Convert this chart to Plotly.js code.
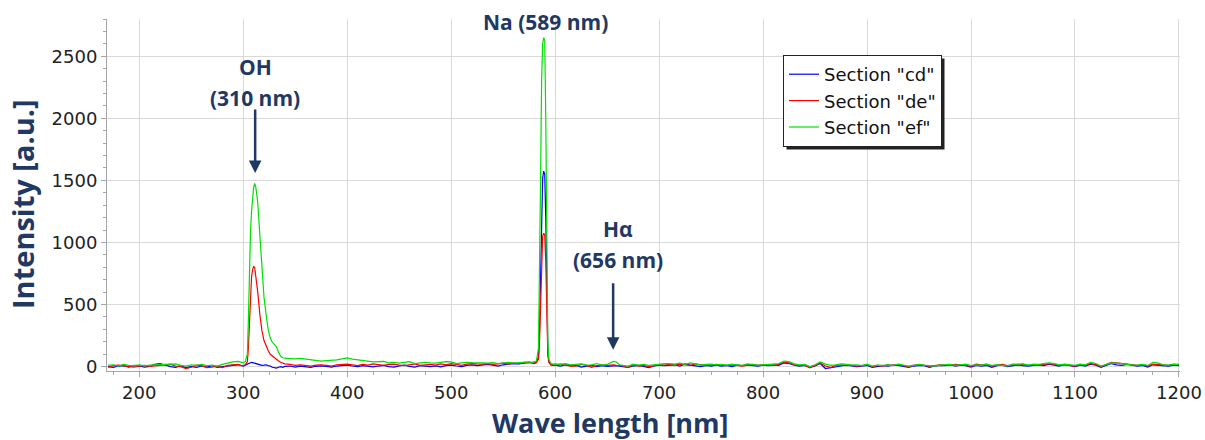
<!DOCTYPE html>
<html>
<head>
<meta charset="utf-8">
<script src="https://cdn.plot.ly/plotly-3.0.1.min.js"></script>
<style>html,body{margin:0;padding:0;background:#fff;}#chart{width:1205px;height:440px;}</style>
</head>
<body>
<div id="chart"></div>
<script>
// Wavelength grid [nm]
const wavelength = [
  170,175,180,185,190,195,200,205,210,215,
  220,225,230,235,240,245,250,255,260,265,
  270,275,280,285,290,295,298,300,302,304,
  305,306,307,308,309,310,311,312,313,314,
  316,318,320,322,324,326,328,330,332,334,
  336,338,340,345,350,355,360,365,370,375,
  380,385,390,395,400,405,410,415,420,425,
  430,435,440,445,450,455,460,465,470,475,
  480,485,490,495,500,505,510,515,520,525,
  530,535,540,545,550,555,560,565,570,575,
  578,580,582,584,585,586,587,588,589,590,
  591,592,593,594,596,598,600,605,610,615,
  620,625,630,635,640,645,650,653,656,659,
  662,665,670,675,680,685,690,695,700,705,
  710,715,720,725,730,735,740,745,750,755,
  760,765,770,775,780,785,790,795,800,805,
  810,815,820,825,830,835,840,845,850,855,
  860,865,870,875,880,885,890,895,900,905,
  910,915,920,925,930,935,940,945,950,955,
  960,965,970,975,980,985,990,995,1000,1005,
  1010,1015,1020,1025,1030,1035,1040,1045,1050,1055,
  1060,1065,1070,1075,1080,1085,1090,1095,1100,1105,
  1110,1115,1120,1125,1130,1135,1140,1145,1150,1155,
  1160,1165,1170,1175,1180,1185,1190,1195,1200
];

// Section "cd" intensity [a.u.]
const sectionCd = [
  0,-5,5,8,-3,10,5,-4,2,18,
  25,10,0,-5,8,-10,2,-6,5,-3,
  8,-5,-2,5,10,15,8,5,12,20,
  28,32,35,35,33,30,28,25,22,20,
  15,10,12,15,8,5,-5,-8,-12,-5,
  0,-6,2,5,-3,4,0,-5,3,6,
  2,-3,5,10,12,5,0,8,3,-2,
  5,10,0,-4,6,12,2,-3,8,4,
  0,6,-2,8,12,5,0,10,15,8,
  10,18,12,5,15,20,25,22,30,35,
  30,25,35,80,300,700,1250,1520,1575,1550,
  1200,500,120,40,15,10,12,5,15,8,
  12,-3,5,10,0,8,2,5,10,8,
  3,0,-5,5,10,2,-8,5,12,8,
  10,15,5,22,12,8,0,10,5,12,
  5,10,0,12,8,15,10,5,12,8,
  15,10,30,25,12,5,10,-5,5,25,
  -15,-10,0,5,12,8,0,5,10,-5,
  0,8,5,12,10,0,-5,5,10,8,
  -5,5,10,8,15,5,12,8,-3,10,
  5,10,-5,8,12,0,10,15,8,5,
  10,15,8,20,12,5,18,8,0,12,
  5,20,12,-5,10,25,15,10,18,12,
  5,10,-3,15,10,8,5,12,8
];

// Section "de" intensity [a.u.]
const sectionDe = [
  -5,8,12,5,0,-3,6,10,2,5,
  10,15,18,5,0,-15,-5,12,8,-8,
  -5,5,-8,10,12,18,10,8,15,40,
  150,380,620,720,780,805,800,740,660,600,
  420,290,210,165,130,100,85,70,58,45,
  35,28,22,18,10,15,8,5,12,15,
  10,5,15,18,20,15,8,18,12,22,
  15,10,18,20,12,8,15,22,10,12,
  18,12,22,15,25,18,10,20,25,22,
  20,25,18,22,28,20,30,25,35,32,
  28,30,32,60,200,500,880,1050,1075,1060,
  850,350,90,35,12,15,8,20,10,5,
  5,18,10,-5,8,15,10,12,15,10,
  12,8,-8,15,5,10,0,10,15,12,
  18,12,20,15,10,22,15,8,12,18,
  12,8,15,10,5,12,18,10,15,12,
  10,18,35,30,15,8,12,-10,10,30,
  5,-8,10,15,8,12,5,10,15,0,
  10,5,15,10,18,8,0,12,15,10,
  5,8,15,12,10,18,15,12,5,20,
  15,20,5,12,18,8,15,12,18,10,
  15,12,18,25,20,10,15,12,5,15,
  10,25,18,0,15,35,30,25,20,15,
  10,15,5,20,15,12,10,18,15
];

// Section "ef" intensity [a.u.]
const sectionEf = [
  10,15,5,18,10,8,14,6,12,15,
  12,20,18,22,10,5,15,10,18,8,
  12,5,18,30,38,42,35,30,40,100,
  380,800,1080,1250,1370,1440,1475,1450,1390,1320,
  1060,760,560,420,300,230,195,180,160,115,
  85,72,68,65,62,66,60,52,48,45,
  48,50,55,62,70,60,55,48,40,38,
  40,42,30,35,28,32,40,25,30,35,
  30,28,35,40,38,25,30,35,32,28,
  30,28,32,25,30,35,28,32,40,38,
  35,40,45,150,700,1500,2300,2600,2650,2630,
  2000,900,200,60,25,20,22,18,25,15,
  18,22,12,15,25,12,18,30,42,38,
  15,10,5,20,12,18,10,15,22,25,
  25,20,28,18,30,22,12,18,20,15,
  18,12,20,15,10,22,18,12,15,20,
  20,25,45,40,22,15,18,0,15,38,
  20,10,15,22,18,12,15,8,20,5,
  12,10,15,8,20,15,5,10,18,12,
  10,5,12,15,18,10,15,20,8,15,
  12,18,10,15,10,5,20,18,22,12,
  20,18,22,30,25,15,20,18,10,20,
  15,35,25,5,20,30,28,22,18,15,
  12,18,10,35,28,15,12,20,18
];

const seriesNames = ['Section "cd"', 'Section "de"', 'Section "ef"'];
const seriesColors = ['#0000ff', '#ff0000', '#00e000'];

const navy = '#1f3864';
const PL = 107, PR = 1180, PT = 19, PB = 371;
const PW = PR - PL, PH = PB - PT;
const px = v => (v - PL) / PW;
const py = v => (PB - v) / PH;

const traces = [sectionCd, sectionDe, sectionEf].map((vals, i) => ({
  type: 'scatter', mode: 'lines', x: wavelength, y: vals,
  name: seriesNames[i], line: {color: seriesColors[i], width: 1.2}
}));

const lblFont = {family: 'Open Sans', size: 21, color: navy, weight: 'bold'};
const txt = (x, y, t, extra) => Object.assign({
  x: px(x), y: py(y), xref: 'paper', yref: 'paper', text: t, showarrow: false,
  xanchor: 'center', yanchor: 'middle', font: lblFont
}, extra || {});

const layout = {
  width: 1205, height: 440,
  margin: {l: PL, r: 1205 - PR, t: PT, b: 440 - PB},
  paper_bgcolor: '#fff', plot_bgcolor: '#fff',
  showlegend: true,
  legend: {
    x: px(783), y: py(55), xanchor: 'left', yanchor: 'top',
    bgcolor: '#fff', bordercolor: '#222', borderwidth: 1,
    font: {family: 'DejaVu Sans', size: 18, color: '#111'},
    tracegroupgap: 0
  },
  xaxis: {
    range: [169, 1201], dtick: 100, tick0: 0,
    showgrid: true, gridcolor: '#d9d9d9', gridwidth: 1,
    showline: true, linecolor: '#a6a6a6', linewidth: 1,
    ticks: 'outside', ticklen: 5, tickcolor: '#a6a6a6',
    minor: {dtick: 25, ticks: 'outside', ticklen: 3, tickcolor: '#a6a6a6', showgrid: false},
    zeroline: false,
    tickfont: {family: 'DejaVu Sans', size: 18, color: '#222'}
  },
  yaxis: {
    range: [-35, 2800], dtick: 500, tick0: 0,
    showgrid: true, gridcolor: '#d9d9d9', gridwidth: 1,
    showline: true, linecolor: '#a6a6a6', linewidth: 1,
    ticks: 'outside', ticklen: 5, tickcolor: '#a6a6a6',
    minor: {dtick: 100, ticks: 'outside', ticklen: 3, tickcolor: '#a6a6a6', showgrid: false},
    zeroline: false,
    tickfont: {family: 'DejaVu Sans', size: 18, color: '#222'}
  },
  shapes: [],
  annotations: [
    {x: 311.5, y: 1560, xref: 'x', yref: 'y', text: '', showarrow: true,
     ax: 0, ay: -65, arrowhead: 2, arrowsize: 1, arrowwidth: 2.5, arrowcolor: navy, standoff: 0},
    {x: 655.8, y: 137, xref: 'x', yref: 'y', text: '', showarrow: true,
     ax: 0, ay: -68, arrowhead: 2, arrowsize: 1, arrowwidth: 2.5, arrowcolor: navy, standoff: 0},
    txt(255, 67, 'OH'),
    txt(255, 98, '(310 nm)'),
    txt(545, 22, 'Na (589 nm)'),
    txt(618, 229, 'Hα'),
    txt(618, 260, '(656 nm)'),
    txt(610, 422, 'Wave length [nm]', {font: {family: 'Open Sans', size: 27, color: navy, weight: 'bold'}}),
    txt(22, 204, 'Intensity [a.u.]', {textangle: -90, font: {family: 'Open Sans', size: 29, color: navy, weight: 'bold'}})
  ]
};

Plotly.newPlot('chart', traces, layout, {displayModeBar: false, staticPlot: true}).then(gd => {
  // legend drop shadow
  const bg = gd.querySelector('.legend .bg');
  if (!bg) return;
  const r = bg.getBoundingClientRect();
  const c = gd.getBoundingClientRect();
  const x0 = r.left - c.left + 3, x1 = r.right - c.left + 3;
  const y0 = r.top - c.top + 3, y1 = r.bottom - c.top + 3;
  return Plotly.relayout(gd, {shapes: [{
    type: 'rect', xref: 'paper', yref: 'paper', layer: 'above',
    x0: px(x0), x1: px(x1), y0: py(y1), y1: py(y0),
    fillcolor: '#222', line: {width: 0}
  }]});
});
</script>
</body>
</html>
